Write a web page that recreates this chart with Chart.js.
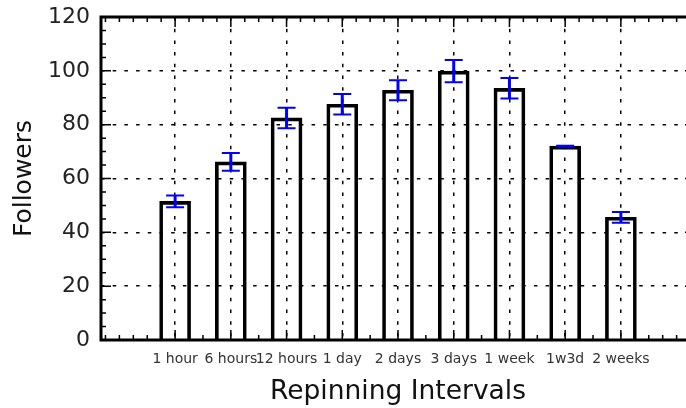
<!DOCTYPE html>
<html>
<head>
<meta charset="utf-8">
<script src="https://cdn.jsdelivr.net/npm/chart.js@4"></script>
<style>
  html, body { margin: 0; padding: 0; background: #fff; overflow: hidden; }
  canvas { display: block; }
</style>
</head>
<body>
<canvas id="chart" width="700" height="408"></canvas>
<script>
// repinning intervals and mean followers, with error bar half-widths
const intervals = ["1 hour", "6 hours", "12 hours", "1 day", "2 days", "3 days", "1 week", "1w3d", "2 weeks"];
const followers = [51.5, 66.2, 82.5, 87.6, 92.8, 99.9, 93.5, 72.0, 45.6];
const errors = [2.2, 3.3, 3.8, 3.8, 3.7, 4.1, 3.8, 0.2, 2.0];
const yTicks = [0, 20, 40, 60, 80, 100, 120];

const FONT = "'DejaVu Sans', sans-serif";

// matplotlib-ish frame: thick spines and inward ticks
const framePlugin = {
  id: "frame",
  afterDraw(chart) {
    const { ctx, chartArea: a, scales: { x, y } } = chart;
    ctx.save();
    ctx.strokeStyle = "#000";
    ctx.lineWidth = 1.5;
    // y ticks (major every 20, minor every 5)
    for (let v = 0; v <= 120; v += 5) {
      const py = y.getPixelForValue(v);
      const len = v % 20 === 0 ? 10 : 5;
      ctx.beginPath();
      ctx.moveTo(a.left, py); ctx.lineTo(a.left + len, py);
      ctx.moveTo(a.right, py); ctx.lineTo(a.right - len, py);
      ctx.stroke();
    }
    // x ticks (major at bars, minor every quarter)
    for (let v = -1.25; v < 9.3; v += 0.25) {
      const px = x.getPixelForValue(v);
      if (px < a.left + 2 || px > a.right - 2) continue;
      const major = Number.isInteger(v) && v >= 0 && v < intervals.length;
      const len = major ? 10 : 5;
      ctx.beginPath();
      ctx.moveTo(px, a.bottom); ctx.lineTo(px, a.bottom - len);
      ctx.moveTo(px, a.top); ctx.lineTo(px, a.top + len);
      ctx.stroke();
    }
    ctx.lineWidth = 3;
    ctx.strokeRect(a.left, a.top, a.right - a.left, a.bottom - a.top);
    ctx.restore();
  }
};

const errorBarPlugin = {
  id: "errorBars",
  afterDatasetsDraw(chart) {
    const { ctx, scales: { x, y } } = chart;
    ctx.save();
    ctx.strokeStyle = "#0000ff";
    followers.forEach((v, i) => {
      const px = x.getPixelForValue(i);
      const top = y.getPixelForValue(v + errors[i]);
      const bot = y.getPixelForValue(v - errors[i]);
      ctx.lineWidth = 3;
      ctx.beginPath();
      ctx.moveTo(px, top); ctx.lineTo(px, bot);
      ctx.stroke();
      ctx.lineWidth = 2;
      ctx.beginPath();
      ctx.moveTo(px - 9, top); ctx.lineTo(px + 9, top);
      ctx.moveTo(px - 9, bot); ctx.lineTo(px + 9, bot);
      ctx.stroke();
    });
    ctx.restore();
  }
};

const ctx = document.getElementById("chart").getContext("2d");
new Chart(ctx, {
  type: "bar",
  data: {
    datasets: [{
      data: followers.map((v, i) => ({ x: i, y: v })),
      backgroundColor: "rgba(255,255,255,0)",
      borderColor: "#000",
      borderWidth: 3,
      borderSkipped: "bottom",
      barThickness: 31
    }]
  },
  options: {
    responsive: false,
    animation: false,
    layout: { padding: { top: 17, right: 5, left: 0, bottom: 0 } },
    plugins: { legend: { display: false }, tooltip: { enabled: false } },
    scales: {
      x: {
        type: "linear",
        min: -1.33,
        max: 9.33,
        offset: false,
        afterBuildTicks: (axis) => { axis.ticks = intervals.map((_, i) => ({ value: i })); },
        afterFit: (axis) => { axis.height = 68; axis.paddingLeft = 0; axis.paddingRight = 0; },
        ticks: {
          callback: (v) => intervals[v],
          color: "#333",
          font: { family: FONT, size: 14 },
          padding: 11,
          maxRotation: 0,
          autoSkip: false
        },
        grid: { offset: false, drawTicks: false, color: "#000", lineWidth: 1.5 },
        border: { display: false, dash: [3.5, 8.2] },
        title: {
          display: true,
          text: "Repinning Intervals",
          color: "#111",
          font: { family: FONT, size: 26.5 },
          padding: { top: 0, bottom: 0 }
        }
      },
      y: {
        min: 0,
        max: 120,
        afterBuildTicks: (axis) => { axis.ticks = yTicks.map((v) => ({ value: v })); },
        afterFit: (axis) => { axis.width = 101; axis.paddingTop = 0; axis.paddingBottom = 0; },
        ticks: {
          color: "#222",
          font: { family: FONT, size: 22 },
          padding: 11
        },
        grid: { drawTicks: false, color: "#000", lineWidth: 1.5 },
        border: { display: false, dash: [3.5, 8.2] },
        title: {
          display: true,
          text: "Followers",
          color: "#111",
          font: { family: FONT, size: 25 },
          padding: { top: 9, bottom: 0 }
        }
      }
    }
  },
  plugins: [framePlugin, errorBarPlugin]
});
</script>
</body>
</html>
